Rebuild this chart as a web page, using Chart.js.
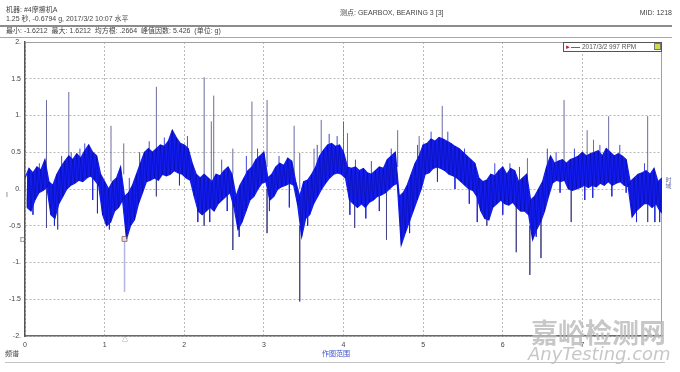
<!DOCTYPE html>
<html>
<head>
<meta charset="utf-8">
<script src="https://cdn.jsdelivr.net/npm/chart.js@4.4.1/dist/chart.umd.min.js"></script>
<style>
  body { margin: 0; background: #fff; }
  #wrap { position: relative; width: 680px; height: 372px; overflow: hidden;
          font-family: "Liberation Sans", "Noto Sans CJK SC", sans-serif; color: #444; }
  canvas { position: absolute; left: 0; top: 0; }
  .t { position: absolute; font-size: 7px; line-height: 8px; white-space: nowrap; }
  .rule { position: absolute; left: 0; width: 672px; }
  .legend { position: absolute; left: 563px; top: 42px; width: 99px; height: 10px;
            border: 1px solid #555; background: #fff; box-sizing: border-box; }
  .wm { position: absolute; color: rgba(185,185,185,0.8); white-space: nowrap; }
</style>
</head>
<body>
<div id="wrap">
  <canvas id="chart" width="680" height="372"></canvas>

  <!-- header -->
  <div class="t" style="left:6px;top:6px">机器: #4摩擦机A</div>
  <div class="t" style="left:6px;top:15px">1.25 秒, -0.6794 g, 2017/3/2 10:07 水平</div>
  <div class="t" style="left:340px;top:9px">测点: GEARBOX, BEARING 3 [3]</div>
  <div class="t" style="right:8px;top:9px">MID: 1218</div>
  <div class="rule" style="top:25px;height:2px;background:#8c8c8c"></div>
  <div class="t" style="left:6px;top:27px">最小: -1.6212 &nbsp;最大: 1.6212 &nbsp;均方根: .2664 &nbsp;峰值因数: 5.426 &nbsp;(单位: g)</div>
  <div class="rule" style="top:37px;height:1px;background:#a8a8a8"></div>

  <!-- legend box -->
  <div class="legend">
    <span style="position:absolute;left:1px;top:0px;font-size:6px;line-height:8px;color:#c0102a">&#9658;</span>
    <span style="position:absolute;left:7px;top:4px;width:9px;height:1px;background:#666"></span>
    <span class="t" style="left:18px;top:0px;font-size:6.5px;color:#555">2017/3/2 997 RPM</span>
    <span style="position:absolute;right:0px;top:0px;width:7px;height:7px;background:#cfdc48;border:1px solid #777;box-sizing:border-box"></span>
  </div>

  <!-- side marks -->
  <div class="t" style="left:6px;top:191px;color:#666">I</div>
  <div class="t" style="left:20px;top:236px;color:#666">D</div>
  <div class="t" style="left:664px;top:177px;font-size:6px;color:#6a6ab0;writing-mode:vertical-rl">时域</div>

  <!-- footer -->
  <div class="t" style="left:122px;top:335px;font-size:6px;color:#666">&#9651;</div>
  <div class="t" style="left:5px;top:350px">频谱</div>
  <div class="t" style="left:322px;top:350px;color:#3a50c8">作图范围</div>
  <div class="rule" style="left:5px;width:660px;top:362px;height:1px;background:#c4c4c4"></div>

  <!-- watermark -->
  <div class="wm" style="left:531px;top:312px;font-size:27px;font-weight:bold;font-family:'Noto Sans CJK SC'">嘉峪检测网</div>
  <div class="wm" style="left:528px;top:343px;font-size:18px;font-style:italic;font-family:'DejaVu Sans'">AnyTesting.com</div>
</div>

<script>
// envelope of the vibration trace, read every 0.05 s (upper then lower edge of the band), in g
const stepT = 0.05;
const upperEnv = [
  0.15, 0.28, 0.22, 0.30, 0.26, 0.40, 0.10, 0.05, 0.20, 0.30,
  0.38, 0.45, 0.40, 0.48, 0.42, 0.52, 0.60, 0.50, 0.45, 0.20,
  0.10, 0.00, 0.10, 0.15, 0.30, -0.10, -0.05, 0.05, 0.20, 0.35,
  0.50, 0.55, 0.50, 0.55, 0.60, 0.58, 0.65, 0.80, 0.70, 0.62,
  0.60, 0.55, 0.35, 0.20, 0.15, 0.20, 0.15, 0.10, 0.20, 0.18,
  0.25, 0.30, 0.20, -0.10, 0.05, 0.15, 0.25, 0.30, 0.40, 0.45,
  0.50, 0.15, 0.20, 0.30, 0.35, 0.32, 0.42, 0.38, 0.10, -0.10,
  0.10, 0.12, 0.20, 0.30, 0.45, 0.53, 0.60, 0.62, 0.58, 0.60,
  0.50, 0.30, 0.28, 0.30, 0.25, 0.28, 0.22, 0.20, 0.25, 0.30,
  0.28, 0.40, 0.45, 0.50, -0.10, -0.05, 0.05, 0.20, 0.35, 0.45,
  0.60, 0.62, 0.68, 0.65, 0.70, 0.68, 0.65, 0.62, 0.58, 0.55,
  0.50, 0.45, 0.40, 0.35, 0.15, 0.10, 0.12, 0.20, 0.18, 0.25,
  0.30, 0.20, 0.28, 0.25, 0.10, 0.15, 0.20, -0.15, -0.10, 0.00,
  0.10, 0.30, 0.45, 0.35, 0.38, 0.40, 0.35, 0.40, 0.42, 0.45,
  0.50, 0.45, 0.48, 0.50, 0.52, 0.45, 0.55, 0.50, 0.45, 0.48,
  0.45, 0.40, 0.10, 0.15, 0.20, 0.22, 0.25, 0.20, 0.28, 0.10,
  0.15
];
const lowerEnv = [
  -0.25, -0.30, -0.15, -0.05, -0.02, 0.02, -0.35, -0.40, -0.20, -0.10,
  0.00, 0.05, 0.08, 0.12, 0.10, 0.15, 0.18, 0.12, 0.05, -0.35,
  -0.50, -0.45, -0.30, -0.25, -0.15, -0.68, -0.50, -0.42, -0.20, -0.05,
  0.10, 0.12, 0.15, 0.12, 0.20, 0.18, 0.20, 0.25, 0.22, 0.20,
  0.15, 0.12, -0.10, -0.30, -0.35, -0.30, -0.25, -0.30, -0.20, -0.15,
  -0.10, -0.05, -0.25, -0.55, -0.45, -0.30, -0.15, -0.10, 0.00, 0.08,
  0.10, -0.15, -0.10, 0.00, 0.03, 0.05, 0.08, 0.05, -0.22, -0.65,
  -0.40, -0.35, -0.20, -0.10, 0.00, 0.08, 0.15, 0.20, 0.22, 0.20,
  0.15, -0.15, -0.20, -0.25, -0.20, -0.25, -0.18, -0.15, -0.10, -0.08,
  -0.05, 0.00, 0.05, 0.08, -0.76, -0.60, -0.45, -0.30, -0.15, 0.00,
  0.20, 0.22, 0.28, 0.30, 0.28, 0.25, 0.20, 0.18, 0.15, 0.10,
  0.05, 0.00, -0.02, -0.10, -0.30, -0.40, -0.42, -0.25, -0.20, -0.15,
  -0.20, -0.22, -0.18, -0.25, -0.30, -0.30, -0.35, -0.69, -0.55, -0.45,
  -0.30, -0.10, 0.08, 0.12, 0.10, 0.12, 0.00, -0.02, 0.00, 0.02,
  0.05, 0.02, 0.05, 0.03, 0.08, 0.05, 0.10, 0.05, 0.08, 0.10,
  0.05, 0.03, -0.38, -0.30, -0.25, -0.20, -0.20, -0.25, -0.20, -0.30,
  -0.35
];

// tall single-sample impulses
const spikeT    = [0.27, 0.27, 0.41, 0.55, 1.08, 1.24, 1.65, 1.65, 2.25, 2.25, 2.34, 2.37, 2.61, 2.61, 2.85, 3.04, 3.04, 3.38, 3.45, 3.45, 3.63, 3.72, 4.00, 4.05, 4.14, 4.54, 4.68, 4.95, 5.24, 5.80, 6.17, 6.31, 6.34, 6.48, 6.77, 6.86, 7.06, 7.14, 7.33, 7.82, 7.82];
const spikeFrom = [0.20, 0.00, -0.20, 0.30, 0.10, 0.20, 0.40, 0.20, 0.10, -0.20, 0.10, 0.10, -0.10, 0.20, 0.30, 0.30, 0.00, 0.20, -0.50, 0.00, 0.20, 0.30, 0.40, 0.30, -0.10, 0.00, 0.30, 0.40, 0.50, -0.20, -0.20, 0.10, -0.50, -0.30, 0.30, 0.10, 0.30, 0.30, 0.40, 0.20, -0.10];
const spikeTo   = [1.21, -0.53, -0.55, 1.32, 0.86, 0.62, 1.39, -0.10, 1.52, -0.50, 0.92, 1.27, -0.83, 0.55, 1.19, 1.21, -0.60, 0.86, -1.53, 0.49, 0.55, 0.94, 0.92, 0.76, -0.53, -0.69, 0.80, 0.72, 1.13, -0.50, -0.86, 0.42, -1.17, -0.94, 1.21, -0.45, 0.80, 0.67, 0.99, 0.99, -0.45];

// short hairs poking just past the band edges
const hairT    = [0.10, 0.18, 0.37, 0.46, 0.58, 0.69, 0.75, 0.85, 0.91, 1.06, 1.31, 1.44, 1.56, 1.75, 1.94, 2.04, 2.17, 2.32, 2.47, 2.54, 2.69, 2.78, 2.92, 3.07, 3.19, 3.32, 3.55, 3.67, 3.82, 3.92, 4.08, 4.15, 4.28, 4.35, 4.45, 4.60, 4.83, 4.93, 5.10, 5.18, 5.31, 5.40, 5.52, 5.58, 5.68, 5.90, 6.00, 6.09, 6.21, 6.42, 6.56, 6.67, 6.72, 6.90, 7.03, 7.13, 7.22, 7.37, 7.47, 7.55, 7.68, 7.78, 7.91, 7.97];
const hairFrom = [0.00, 0.05, -0.10, 0.10, 0.20, 0.25, 0.30, 0.30, 0.20, -0.20, -0.25, 0.10, 0.30, 0.40, 0.40, 0.40, -0.10, -0.05, 0.05, 0.10, -0.20, 0.05, 0.20, 0.00, 0.20, 0.20, -0.10, 0.20, 0.40, 0.40, 0.05, 0.05, 0.00, 0.00, 0.10, 0.20, -0.20, 0.20, 0.45, 0.45, 0.45, 0.35, 0.25, 0.20, -0.10, 0.00, 0.00, 0.05, -0.10, -0.35, 0.20, 0.25, 0.25, 0.20, 0.25, 0.25, 0.30, 0.30, 0.25, 0.25, -0.05, 0.00, 0.00, -0.05];
const hairTo   = [-0.35, 0.35, -0.50, 0.45, 0.50, 0.55, 0.62, -0.15, -0.33, -0.55, 0.15, 0.50, 0.65, 0.70, 0.05, 0.72, -0.45, -0.45, 0.40, -0.30, -0.65, 0.45, 0.55, -0.30, 0.45, -0.25, -0.50, 0.60, 0.75, 0.72, -0.35, 0.40, -0.40, 0.38, -0.30, 0.55, -0.60, 0.60, 0.78, 0.10, 0.78, 0.00, 0.55, -0.20, -0.45, 0.35, -0.35, 0.35, 0.30, -0.65, 0.55, 0.50, -0.05, 0.55, -0.15, -0.12, 0.60, -0.10, 0.60, -0.05, -0.45, 0.35, -0.45, -0.45];

// cursor (header: 1.25 s, -0.6794 g) and the impulse under it
const cursorT = [1.25];
const cursorV = [-0.6794];
const cursorTail = [-1.40];

const xTickValues = [0, 1, 2, 3, 4, 5, 6, 7];
const xTickLabels = ['0', '1', '2', '3', '4', '5', '6', '7'];
const yTickValues = [-2, -1.5, -1, -0.5, 0, 0.5, 1, 1.5, 2];
const yTickLabels = ['-2.', '-1.5', '-1.', '-0.5', '0.', '0.5', '1.', '1.5', '2.'];

// upper edge at each reading, lower edge half a step later
const upperPts = upperEnv.map((u, i) => ({ x: i * stepT, y: u }));
const lowerPts = lowerEnv.map((l, i) => ({ x: i * stepT + stepT / 2, y: l }));
const trace = [];
upperPts.forEach((p, i) => trace.push(p, lowerPts[i]));

// vertical segments separated by gaps
function segments(ts, from, to) {
  const out = [];
  ts.forEach((t, i) => out.push({ x: t, y: from[i] }, { x: t, y: to[i] }, { x: t, y: null }));
  return out;
}
const spikes = segments(spikeT, spikeFrom, spikeTo);
const hairs = segments(hairT, hairFrom, hairTo);
const cursorLine = segments(cursorT, cursorV, cursorTail);

const FONT = 'Liberation Sans';
const BAND = 'rgb(18,28,236)';

// light frame round the plot (top / right edges)
const frame = {
  id: 'frame',
  beforeDatasetsDraw(chart) {
    const { ctx, chartArea: a } = chart;
    ctx.save();
    ctx.strokeStyle = '#a0a0a0';
    ctx.lineWidth = 1;
    ctx.beginPath();
    ctx.moveTo(a.left, a.top + 0.5);
    ctx.lineTo(a.right - 0.5, a.top + 0.5);
    ctx.lineTo(a.right - 0.5, a.bottom);
    ctx.stroke();
    ctx.restore();
  }
};

new Chart(document.getElementById('chart'), {
  type: 'line',
  data: {
    datasets: [
      // darker streaks inside the band
      { data: trace, borderColor: 'rgba(0,0,110,0.3)', borderWidth: 1, pointRadius: 0, tension: 0 },
      {
        data: cursorT.map((t, i) => ({ x: t, y: cursorV[i] })),
        showLine: false,
        pointStyle: 'rect',
        pointRadius: 3.5,
        pointBackgroundColor: 'rgba(235,215,215,0.85)',
        pointBorderColor: '#a07878',
        pointBorderWidth: 1
      },
      // band edges, filled between them
      { data: upperPts, borderColor: BAND, borderWidth: 1.2, pointRadius: 0, tension: 0 },
      { data: lowerPts, borderColor: BAND, borderWidth: 1.2, pointRadius: 0, tension: 0, fill: '-1', backgroundColor: BAND },
      { data: hairs, borderColor: 'rgba(30,40,215,0.85)', borderWidth: 1, pointRadius: 0, spanGaps: false },
      { data: spikes, borderColor: 'rgba(70,70,135,0.8)', borderWidth: 1, pointRadius: 0, spanGaps: false },
      { data: cursorLine, borderColor: 'rgba(150,150,215,0.7)', borderWidth: 1.5, pointRadius: 0, spanGaps: false }
    ]
  },
  options: {
    responsive: false,
    animation: false,
    devicePixelRatio: 1,
    layout: { padding: { top: 42, right: 18, left: 0, bottom: 0 } },
    plugins: { legend: { display: false }, tooltip: { enabled: false } },
    scales: {
      x: {
        type: 'linear',
        min: 0,
        max: 8,
        afterFit: (s) => { s.height = 36; },
        afterBuildTicks: (s) => { s.ticks = xTickValues.map(v => ({ value: v })); },
        ticks: {
          padding: 5,
          maxRotation: 0,
          color: '#444',
          font: { size: 7, family: FONT },
          callback: (v) => xTickLabels[xTickValues.indexOf(v)]
        },
        grid: { color: '#b8b8b8', drawTicks: false },
        border: { color: '#6a6a6a', width: 1.5, dash: [2, 2] }
      },
      y: {
        min: -2,
        max: 2,
        afterFit: (s) => { s.width = 25; },
        afterBuildTicks: (s) => { s.ticks = yTickValues.map(v => ({ value: v })); },
        ticks: {
          padding: 4,
          color: '#444',
          font: { size: 7, family: FONT },
          callback: (v) => yTickLabels[yTickValues.indexOf(v)]
        },
        grid: { color: '#b8b8b8', drawTicks: false },
        border: { color: '#555', width: 1.5, dash: [2, 2] }
      }
    }
  },
  plugins: [frame]
});
</script>
</body>
</html>
